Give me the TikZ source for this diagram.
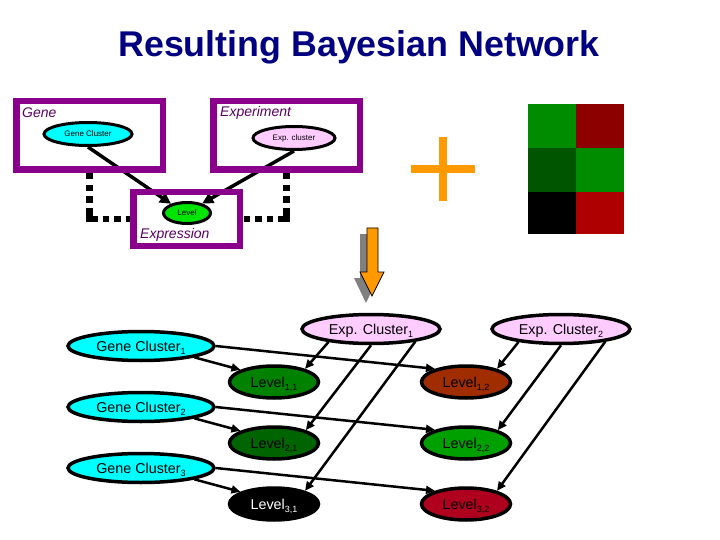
\documentclass[tikz,border=0pt]{standalone}
\usepackage{fontspec}
\setmainfont{Liberation Sans}
\usetikzlibrary{arrows.meta,shapes.geometric}

\definecolor{titleblue}{RGB}{0,0,128}
\definecolor{boxpurple}{RGB}{139,0,139}
\definecolor{labelpurple}{RGB}{90,0,100}
\definecolor{genecyan}{RGB}{0,255,255}
\definecolor{exppink}{RGB}{255,204,255}
\definecolor{plusorange}{RGB}{255,153,0}
\definecolor{cellA}{RGB}{0,140,0}
\definecolor{cellB}{RGB}{140,0,0}
\definecolor{cellC}{RGB}{0,85,0}
\definecolor{cellD}{RGB}{0,0,0}
\definecolor{cellE}{RGB}{0,140,0}
\definecolor{cellF}{RGB}{175,0,0}

\newcommand{\lowidx}[1]{\raisebox{-3.5pt}{\fontsize{9}{9}\selectfont #1}}

\tikzset{
  classbox/.style={draw=boxpurple, line width=6.5pt, rectangle, inner sep=0pt},
  classlabel/.style={anchor=west, inner sep=0pt, text=labelpurple, font=\fontsize{14}{16}\selectfont\itshape},
  smallvar/.style={ellipse, draw=black, line width=3pt, inner sep=0pt, font=\fontsize{8}{10}\selectfont},
  bigvar/.style={ellipse, draw=black, line width=3.5pt, inner sep=0pt, minimum width=146pt, minimum height=29pt, text height=10pt, text depth=0pt, font=\fontsize{14.3}{16}\selectfont},
  levelvar/.style={bigvar, minimum width=89pt, minimum height=32pt},
  link/.style={draw=black, line width=2.5pt, -{Triangle[length=9pt,width=8pt]}},
  biglink/.style={draw=black, line width=3.5pt, -{Triangle[length=11pt,width=11pt]}},
  dotlink/.style={draw=black, line width=6.5pt, dash pattern=on 6.5pt off 5.2pt on 6.5pt off 5.2pt on 6.5pt off 5.2pt on 19pt off 5pt on 6.5pt off 5pt on 6.5pt off 5pt on 6.5pt off 5pt},
}

\begin{document}
\begin{tikzpicture}[x=1pt,y=-1pt]
\useasboundingbox (0,0) rectangle (720,540);

% Title
\node[font=\fontsize{35.8}{40}\selectfont\bfseries, text=titleblue, inner sep=0pt] (title) at (359,47) {Resulting Bayesian Network};

% Template variables
\node[smallvar, fill=genecyan, minimum width=88pt, minimum height=23pt] (genevar) at (88,134) {Gene Cluster};
\node[smallvar, fill=exppink, minimum width=82pt, minimum height=23pt] (expvar) at (294,138) {Exp. cluster};
\node[smallvar, fill=green!90!black, minimum width=47pt, minimum height=21pt] (levelvar) at (187,213) {Level};

% Template edges go under the box border
\draw[biglink] (genevar.270) -- (levelvar.150);
\draw[biglink] (expvar.270) -- (levelvar.32);

% Dotted links between the boxes
\node[minimum width=146.5pt, minimum height=68.5pt, classbox] (genebox) at (89.5,135.5) {};
\node[minimum width=146.5pt, minimum height=68.5pt, classbox] (expbox) at (286.5,135.5) {};
\node[minimum width=106.5pt, minimum height=53.5pt, classbox] (exprbox) at (186.5,219) {};
\draw[dotlink] (genebox.south) |- (exprbox.west);
\draw[dotlink] (expbox.south) |- (exprbox.east);

% Box labels
\node[classlabel] (genelabel) at (22,113) {Gene};
\node[classlabel] (explabel) at (220,113) {Experiment};
\node[classlabel] (exprlabel) at (140,235) {Expression};

% Plus sign
\draw[plusorange, line width=8pt] (411,169) -- (475,169);
\draw[plusorange, line width=8pt] (443,137) -- (443,201);

% Data matrix
\foreach \col/\xa/\xb/\ya/\yb in {cellA/528/576/104/148, cellB/576/624/104/148, cellC/528/576/148/192, cellE/576/624/148/192, cellD/528/576/192/234, cellF/576/624/192/234}
\fill[\col] (\xa,\ya) rectangle (\xb,\yb);

% Block arrow and its shadow
\fill[gray] (360,234) -- (372,234) -- (372,278) -- (378,278) -- (366,303) -- (354,278) -- (360,278) -- cycle;
\draw[fill=plusorange, line width=0.8pt] (367,228) -- (378,228) -- (378,272) -- (384,272) -- (372,296) -- (360,272) -- (367,272) -- cycle;

% Gene clusters
\foreach \i/\y in {1/346,2/407,3/468}
\node[bigvar, fill=genecyan] (gc\i) at (141,\y) {Gene Cluster\lowidx{\i}};

% Experiment clusters
\node[bigvar, minimum width=138pt, fill=exppink] (ec1) at (371,329) {Exp. Cluster\lowidx{1}};
\node[bigvar, minimum width=138pt, fill=exppink] (ec2) at (561,329) {Exp. Cluster\lowidx{2}};

% Expression levels
\node[levelvar, fill={rgb,255:red,0;green,130;blue,0}] (lev11) at (274,382) {Level\lowidx{1,1}};
\node[levelvar, fill={rgb,255:red,160;green,45;blue,0}] (lev12) at (466,382) {Level\lowidx{1,2}};
\node[levelvar, fill={rgb,255:red,0;green,100;blue,0}] (lev21) at (274,443) {Level\lowidx{2,1}};
\node[levelvar, fill={rgb,255:red,0;green,160;blue,0}] (lev22) at (466,443) {Level\lowidx{2,2}};
\node[levelvar, fill=black, text=white] (lev31) at (274,504) {Level\lowidx{3,1}};
\node[levelvar, fill={rgb,255:red,175;green,0;blue,30}] (lev32) at (466,504) {Level\lowidx{3,2}};

% Edges from the gene clusters
\foreach \i in {1,2,3}
{
\draw[link] (gc\i.-12) -- (lev\i1.160);
\draw[link] (gc\i.0) -- (lev\i2.157);
}

% Edges from the experiment clusters
\foreach \c in {1,2}
{
\draw[link] (ec\c.197) -- (lev1\c.23);
\draw[link] (ec\c.270) -- (lev2\c.22);
\draw[link] (ec\c.-16) -- (lev3\c.23);
}

\end{tikzpicture}
\end{document}
